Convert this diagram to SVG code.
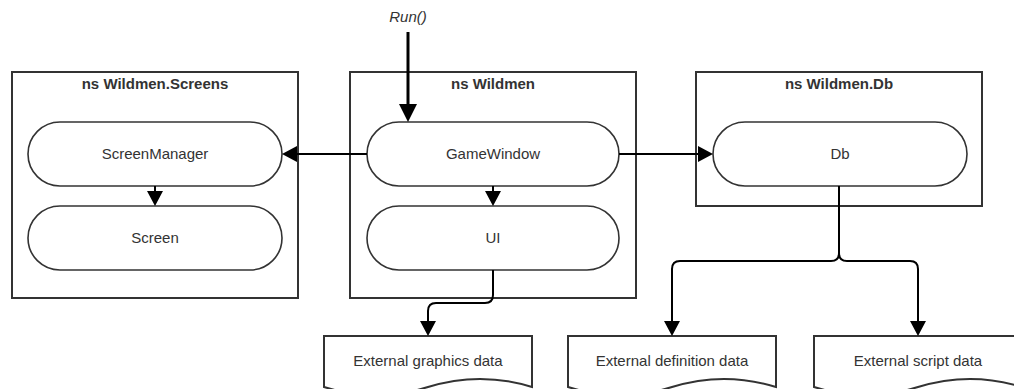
<svg xmlns="http://www.w3.org/2000/svg" width="1014" height="389" viewBox="0 0 1014 389">
  <style>
    .ns { fill: #ffffff; stroke: #333333; stroke-width: 2; }
    .pill { fill: #ffffff; stroke: #333333; stroke-width: 1.6; }
    .doc { fill: #ffffff; stroke: #333333; stroke-width: 2; }
    .title { font-family: "Liberation Sans", Arial, sans-serif; font-size: 15px; font-weight: bold; fill: #333333; text-anchor: middle; }
    .label { font-family: "Liberation Sans", Arial, sans-serif; font-size: 15px; fill: #333333; text-anchor: middle; }
    .entry { font-family: "Liberation Sans", Arial, sans-serif; font-size: 15px; font-style: italic; fill: #333333; text-anchor: middle; }
    .wire { fill: none; stroke: #000000; stroke-width: 2; }
    .wire-thick { fill: none; stroke: #000000; stroke-width: 3; }
  </style>
  <defs>
    <marker id="head" markerUnits="userSpaceOnUse" markerWidth="17" markerHeight="17" refX="0" refY="8" orient="auto" overflow="visible">
      <path d="M0,0 L15,8 L0,16 Z" fill="#000000"/>
    </marker>
    <marker id="head-big" markerUnits="userSpaceOnUse" markerWidth="19" markerHeight="19" refX="0" refY="9" orient="auto" overflow="visible">
      <path d="M0,0 L18,9 L0,18 Z" fill="#000000"/>
    </marker>
  </defs>

  <!-- namespace containers -->
  <g id="ns-screens">
    <rect class="ns" x="12" y="72" width="286" height="226"/>
    <text class="title" x="155" y="89">ns Wildmen.Screens</text>
  </g>
  <g id="ns-wildmen">
    <rect class="ns" x="350" y="72" width="286" height="226"/>
    <text class="title" x="493" y="89">ns Wildmen</text>
  </g>
  <g id="ns-db">
    <rect class="ns" x="696" y="72" width="286" height="134"/>
    <text class="title" x="839" y="89">ns Wildmen.Db</text>
  </g>

  <!-- classes -->
  <g id="screen-manager">
    <rect class="pill" x="28" y="122" width="254" height="64" rx="32" ry="32"/>
    <text class="label" x="155" y="159">ScreenManager</text>
  </g>
  <g id="screen">
    <rect class="pill" x="28" y="206" width="254" height="64" rx="32" ry="32"/>
    <text class="label" x="155" y="243">Screen</text>
  </g>
  <g id="game-window">
    <rect class="pill" x="367" y="122" width="252" height="64" rx="32" ry="32"/>
    <text class="label" x="493" y="159">GameWindow</text>
  </g>
  <g id="ui">
    <rect class="pill" x="367" y="206" width="252" height="64" rx="32" ry="32"/>
    <text class="label" x="493" y="243">UI</text>
  </g>
  <g id="db">
    <rect class="pill" x="713" y="122" width="254" height="64" rx="32" ry="32"/>
    <text class="label" x="840" y="159">Db</text>
  </g>

  <!-- external data documents -->
  <g id="graphics-data">
    <path class="doc" d="M324,336 H532 V387 Q480,370.8 428,387 Q376,403.2 324,387 Z"/>
    <text class="label" x="428" y="366">External graphics data</text>
  </g>
  <g id="definition-data">
    <path class="doc" d="M568,336 H776 V387 Q724,370.8 672,387 Q620,403.2 568,387 Z"/>
    <text class="label" x="672" y="366">External definition data</text>
  </g>
  <g id="script-data">
    <path class="doc" d="M814,336 H1022 V387 Q970,370.8 918,387 Q866,403.2 814,387 Z"/>
    <text class="label" x="918" y="366">External script data</text>
  </g>

  <!-- entry point -->
  <g id="run">
    <text class="entry" x="408" y="22">Run()</text>
  </g>

  <!-- connectors -->
  <g id="connectors">
    <path class="wire-thick" d="M408,32 V104" marker-end="url(#head-big)"/>
    <path class="wire" d="M367,154 H297" marker-end="url(#head)"/>
    <path class="wire" d="M619,154 H698" marker-end="url(#head)"/>
    <path class="wire" d="M155,186 V191" marker-end="url(#head)"/>
    <path class="wire" d="M493,186 V191" marker-end="url(#head)"/>
    <path class="wire" d="M493,270 V295 Q493,303 485,303 H436 Q428,303 428,311 V321" marker-end="url(#head)"/>
    <path class="wire" d="M839,186 V253 Q839,261 831,261 H680 Q672,261 672,269 V321" marker-end="url(#head)"/>
    <path class="wire" d="M839,186 V253 Q839,261 847,261 H910 Q918,261 918,269 V321" marker-end="url(#head)"/>
  </g>
</svg>
